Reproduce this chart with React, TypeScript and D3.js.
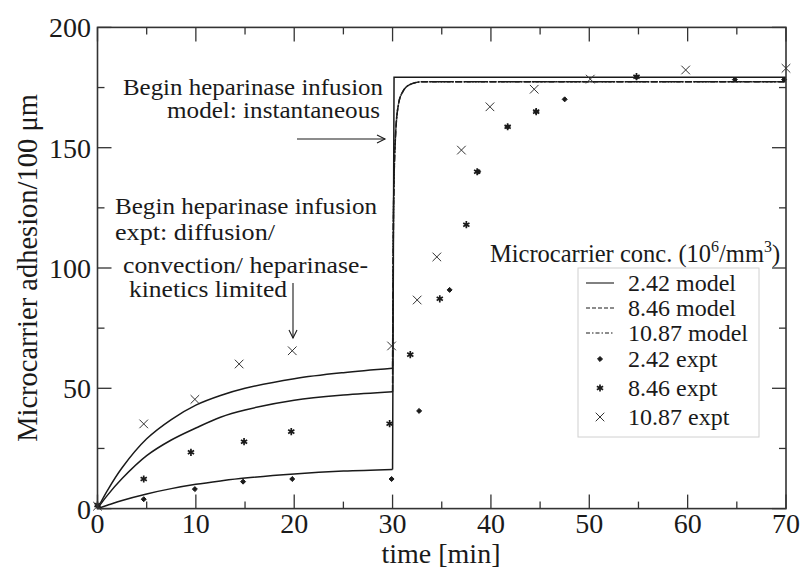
import React from "react";
import * as d3 from "d3";

// Time axis (min) and adhesion axis (per 100 µm)
const X_TICKS = [0, 10, 20, 30, 40, 50, 60, 70];
const X_MINOR = [5, 15, 25, 35, 45, 55, 65];
const Y_TICKS = [0, 50, 100, 150, 200];
const Y_MINOR = [25, 75, 125, 175];

// Model curves before heparinase infusion (t = 0..30 min)
const MODEL_T_PRE = [0, 1, 2.5, 5, 7.5, 10, 12.5, 15, 20, 25, 30];
const MODEL_242_PRE = [0, 1.4, 3.4, 6.1, 8.3, 10.1, 11.5, 12.7, 14.4, 15.6, 16.3];
const MODEL_846_PRE = [0, 5.5, 12.5, 22, 28.5, 33.5, 38, 41, 45, 47.2, 48.6];
const MODEL_1087_PRE = [0, 7.5, 17, 29, 37, 43, 47, 50, 54, 56.5, 58.3];

// Model curves after infusion
const MODEL_242_POST_T = [30, 30.15, 70];
const MODEL_242_POST = [16.3, 179.3, 179.3];
const MODEL_HI_POST_T = [30, 30.1, 30.3, 30.6, 31, 31.8, 33, 70];
const MODEL_846_POST = [48.6, 125, 155, 168, 173, 176.3, 177.4, 177.4];
const MODEL_1087_POST = [58.3, 125, 155, 168, 173, 176.3, 177.4, 177.4];

// Experimental points
const EXPT_242_T = [0, 4.7, 9.9, 14.8, 19.8, 29.9, 32.7, 35.8, 38.7, 41.7, 44.6, 47.5, 54.8, 64.8, 69.8];
const EXPT_242_V = [1, 3.9, 8.1, 11.2, 12.3, 12.3, 40.6, 90.9, 140, 158.7, 165, 170.1, 179.3, 178.3, 178.3];
const EXPT_846_T = [0, 4.7, 9.5, 14.9, 19.7, 29.7, 31.8, 34.8, 37.5, 38.6, 41.7, 44.6, 54.8];
const EXPT_846_V = [1.5, 12.3, 23.4, 27.8, 32, 35.3, 64, 87.2, 118, 140, 158.7, 165, 179.5];
const EXPT_1087_T = [0, 4.7, 9.9, 14.4, 19.8, 29.9, 32.5, 34.5, 37, 39.9, 44.4, 50.1, 59.8, 70];
const EXPT_1087_V = [1, 35.2, 45.4, 60.1, 65.6, 67.6, 86.7, 104.6, 149, 167, 174.3, 178.5, 182.3, 183];

const LEGEND_LABELS = ["2.42 model", "8.46 model", "10.87 model", "2.42 expt", "8.46 expt", "10.87 expt"];

const W = 803;
const H = 570;
const FONT = "'Liberation Serif', 'DejaVu Serif', serif";
const INK = "#1a1a1a";

const x = d3.scaleLinear().domain([0, 70]).range([97.5, 786]);
const y = d3.scaleLinear().domain([0, 200]).range([508.6, 27.4]);

const zip = (ts: number[], vs: number[]) => ts.map((t, i) => [t, vs[i]] as [number, number]);

const smooth = d3
  .line<[number, number]>()
  .x((d) => x(d[0]))
  .y((d) => y(d[1]))
  .curve(d3.curveCatmullRom.alpha(0.5));

const rise = d3
  .line<[number, number]>()
  .x((d) => x(d[0]))
  .y((d) => y(d[1]))
  .curve(d3.curveMonotoneX);

const straight = d3
  .line<[number, number]>()
  .x((d) => x(d[0]))
  .y((d) => y(d[1]));

const diamond = d3.symbol().type(d3.symbolDiamond2).size(16)();
const asterisk = d3.symbol().type(d3.symbolAsterisk).size(36)();
const times = d3.symbol().type(d3.symbolTimes).size(50)();

function Marker({ kind, cx, cy }: { kind: string; cx: number; cy: number }) {
  if (kind === "diamond")
    return <path d={diamond!} transform={`translate(${cx},${cy})`} fill={INK} stroke={INK} strokeWidth={1} />;
  if (kind === "asterisk")
    return <path d={asterisk!} transform={`translate(${cx},${cy})`} fill="none" stroke={INK} strokeWidth={1.7} />;
  return <path d={times!} transform={`translate(${cx},${cy})`} fill="none" stroke="#333" strokeWidth={1} />;
}

const DASH_846 = "7,1.5";
const DASH_1087 = "7,1.5,1.5,1.5";

// Annotation lines: text, left x, baseline y, width
const NOTES: [string, number, number, number][] = [
  ["Begin heparinase infusion", 123, 95, 260],
  ["model: instantaneous", 167, 118, 213],
  ["Begin heparinase infusion", 115, 214, 262],
  ["expt: diffusion/", 115, 240, 160],
  ["convection/ heparinase-", 123, 273, 245],
  ["kinetics limited", 129, 297, 158],
];

export default function App() {
  const [x0, x1] = x.range();
  const [y0, y1] = y.range();
  const major = 14;
  const minor = 7;

  const series = [
    { pre: MODEL_242_PRE, postT: MODEL_242_POST_T, post: MODEL_242_POST, dash: undefined, sharp: true },
    { pre: MODEL_846_PRE, postT: MODEL_HI_POST_T, post: MODEL_846_POST, dash: DASH_846, sharp: false },
    { pre: MODEL_1087_PRE, postT: MODEL_HI_POST_T, post: MODEL_1087_POST, dash: DASH_1087, sharp: false },
  ];

  const expts = [
    { t: EXPT_242_T, v: EXPT_242_V, kind: "diamond" },
    { t: EXPT_846_T, v: EXPT_846_V, kind: "asterisk" },
    { t: EXPT_1087_T, v: EXPT_1087_V, kind: "times" },
  ];

  const legendRows = [283, 308, 333, 359, 388, 417];

  return (
    <svg
      width={W}
      height={H}
      viewBox={`0 0 ${W} ${H}`}
      style={{ position: "absolute", left: 0, top: 0, background: "#fff" }}
      fontFamily={FONT}
    >
      <rect x={0} y={0} width={W} height={H} fill="#fff" />

      {/* model curves */}
      {series.map((s, i) => (
        <g key={`m${i}`} fill="none" stroke={INK} strokeWidth={1.5}>
          <path d={smooth(zip(MODEL_T_PRE, s.pre))!} />
          <path
            d={(s.sharp ? straight : rise)(zip(s.postT, s.post))!}
            strokeDasharray={s.dash}
          />
        </g>
      ))}

      {/* experimental points */}
      {expts.map((e, i) => (
        <g key={`e${i}`}>
          {e.t.map((t, j) => (
            <Marker key={j} kind={e.kind} cx={x(t)} cy={y(e.v[j])} />
          ))}
        </g>
      ))}

      {/* frame */}
      <rect x={x0} y={y1} width={x1 - x0} height={y0 - y1} fill="none" stroke="#333" strokeWidth={1.6} />

      {/* ticks on all four sides, pointing inward */}
      <g stroke="#333" strokeWidth={1.3}>
        {X_TICKS.map((t) => (
          <g key={`xt${t}`}>
            <line x1={x(t)} x2={x(t)} y1={y0} y2={y0 - major} />
            <line x1={x(t)} x2={x(t)} y1={y1} y2={y1 + major} />
          </g>
        ))}
        {X_MINOR.map((t) => (
          <g key={`xm${t}`}>
            <line x1={x(t)} x2={x(t)} y1={y0} y2={y0 - minor} />
            <line x1={x(t)} x2={x(t)} y1={y1} y2={y1 + minor} />
          </g>
        ))}
        {Y_TICKS.map((v) => (
          <g key={`yt${v}`}>
            <line x1={x0} x2={x0 + major} y1={y(v)} y2={y(v)} />
            <line x1={x1} x2={x1 - major} y1={y(v)} y2={y(v)} />
          </g>
        ))}
        {Y_MINOR.map((v) => (
          <g key={`ym${v}`}>
            <line x1={x0} x2={x0 + minor} y1={y(v)} y2={y(v)} />
            <line x1={x1} x2={x1 - minor} y1={y(v)} y2={y(v)} />
          </g>
        ))}
      </g>

      {/* tick labels */}
      <g fontSize={28} fill={INK}>
        {X_TICKS.map((t) => (
          <text key={`xl${t}`} x={x(t)} y={533} textAnchor="middle">
            {t}
          </text>
        ))}
        {Y_TICKS.map((v) => (
          <text key={`yl${v}`} x={91} y={y(v) + 10} textAnchor="end">
            {v}
          </text>
        ))}
      </g>

      {/* axis titles */}
      <text x={441} y={563} fontSize={28} textAnchor="middle" fill={INK}>
        time [min]
      </text>
      <text
        transform={`translate(37,${(y0 + y1) / 2}) rotate(-90)`}
        fontSize={28.5}
        textAnchor="middle"
        fill={INK}
      >
        Microcarrier adhesion/100 μm
      </text>

      {/* annotations */}
      <g fontSize={22.5} fill={INK}>
        {NOTES.map(([txt, nx, ny, len], i) => (
          <text key={`n${i}`} x={nx} y={ny} textLength={len} lengthAdjust="spacingAndGlyphs">
            {txt}
          </text>
        ))}
      </g>
      <g stroke={INK} strokeWidth={1.1} fill="none">
        <line x1={297} x2={385} y1={139} y2={139} />
        <path d="M377,135 L385,139 L377,143" />
        <line x1={293} x2={293} y1={283} y2={338} />
        <path d="M289,330 L293,338 L297,330" />
      </g>

      {/* legend */}
      <text x={490} y={262} fontSize={24.5} fill={INK}>
        Microcarrier conc. (10
        <tspan dy={-10} fontSize={16}>6</tspan>
        <tspan dy={10}>/mm</tspan>
        <tspan dy={-10} fontSize={16}>3</tspan>
        <tspan dy={10}>)</tspan>
      </text>
      <rect x={578} y={268} width={181} height={169} fill="#fff" stroke="#d0d0d0" strokeWidth={1} />
      {[undefined, "4,2", "4,2,1.5,2"].map((dash, i) => (
        <line
          key={`ll${i}`}
          x1={586}
          x2={614}
          y1={legendRows[i]}
          y2={legendRows[i]}
          stroke={INK}
          strokeWidth={1.1}
          strokeDasharray={dash}
        />
      ))}
      {["diamond", "asterisk", "times"].map((k, i) => (
        <Marker key={`lm${i}`} kind={k} cx={600} cy={legendRows[i + 3]} />
      ))}
      <g fontSize={24} fill={INK}>
        {LEGEND_LABELS.map((lab, i) => (
          <text key={lab} x={628} y={legendRows[i] + 8}>
            {lab}
          </text>
        ))}
      </g>
    </svg>
  );
}
